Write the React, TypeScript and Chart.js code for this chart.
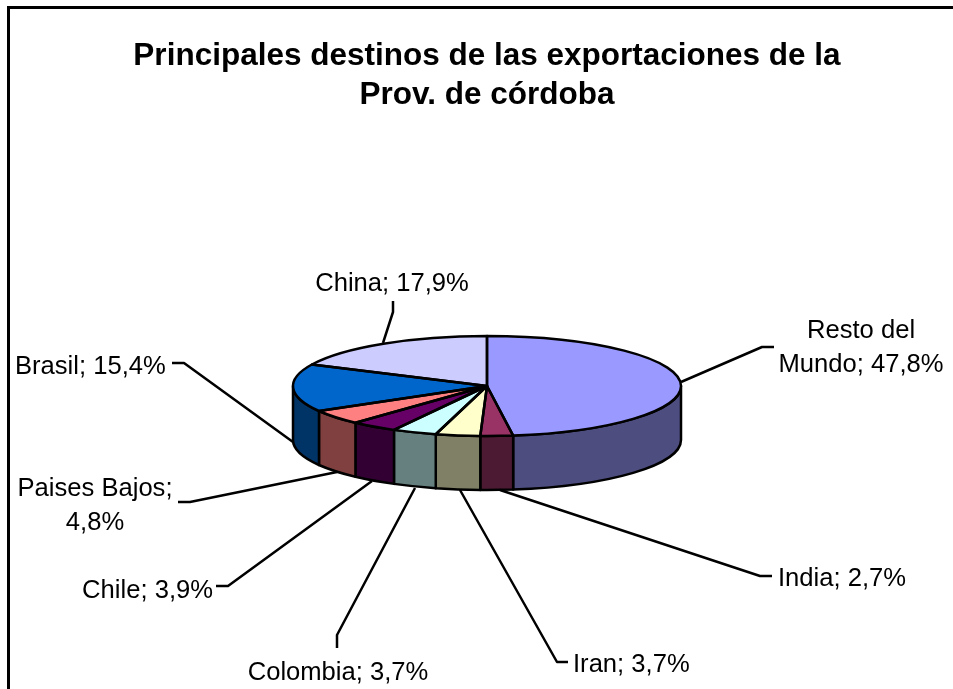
import React, { useEffect, useRef } from "react";
import { Chart, registerables } from "chart.js";

Chart.register(...registerables);

const categories = ["Resto del Mundo", "India", "Iran", "Colombia", "Chile", "Paises Bajos", "Brasil", "China"];
const shares = [47.8, 2.7, 3.7, 3.7, 3.9, 4.8, 15.4, 17.9];
const topColors = ["#9999FF", "#993366", "#FFFFCC", "#CCFFFF", "#660066", "#FF8080", "#0066CC", "#CCCCFF"];
const sideColors = ["#4D4D80", "#4D1A33", "#808066", "#668080", "#330033", "#804040", "#003366", "#666680"];
const titleLines = ["Principales destinos de las exportaciones de la", "Prov. de córdoba"];

const pct = (i: number) => `${shares[i].toFixed(1).replace(".", ",")}%`;

// Label layout, in the order of the categories.
const labelLayout = [
  { lines: ["Resto del", `Mundo; ${pct(0)}`], x: 861, y: 331, align: "center", leader: [[681, 382], [762, 347], [774, 347]] },
  { lines: [`India; ${pct(1)}`], x: 778, y: 579, align: "left", leader: [[500, 490], [760, 576], [772, 576]] },
  { lines: [`Iran; ${pct(2)}`], x: 573, y: 665, align: "left", leader: [[460, 490], [557, 662], [568, 662]] },
  { lines: [`Colombia; ${pct(3)}`], x: 338, y: 673, align: "center", leader: [[415, 488], [337, 635], [337, 648]] },
  { lines: [`Chile; ${pct(4)}`], x: 213, y: 591, align: "right", leader: [[372, 481], [228, 586], [216, 586]] },
  { lines: ["Paises Bajos;", pct(5)], x: 95, y: 489, align: "center", leader: [[337, 472], [190, 502], [178, 502]] },
  { lines: [`Brasil; ${pct(6)}`], x: 15, y: 367, align: "left", leader: [[293, 442], [184, 363], [172, 363]] },
  { lines: [`China; ${pct(7)}`], x: 392, y: 284, align: "center", leader: [[383, 343], [393, 312], [393, 301]] },
];

const PIE_RADIUS = 194;
const PIE_CENTER_Y = 386;
const TILT = 50 / 194;
const DEPTH = 54;
const LINE = 2.5;

const pie3d = {
  id: "pie3d",
  beforeDatasetsDraw(chart: any) {
    const { ctx } = chart;
    const arcs = chart.getDatasetMeta(0).data;
    const { x, outerRadius: r, y } = arcs[0].getProps(["x", "y", "outerRadius"], true);
    const rx = r;
    const ry = r * TILT;

    ctx.save();
    ctx.lineJoin = "round";
    ctx.lineWidth = LINE;
    ctx.strokeStyle = "#000";
    arcs.forEach((arc: any, i: number) => {
      const { startAngle, endAngle } = arc.getProps(["startAngle", "endAngle"], true);
      const a0 = Math.max(startAngle, 0);
      const a1 = Math.min(endAngle, Math.PI);
      if (a1 <= a0) return;
      ctx.beginPath();
      ctx.ellipse(x, PIE_CENTER_Y, rx, ry, 0, a0, a1);
      ctx.ellipse(x, PIE_CENTER_Y + DEPTH, rx, ry, 0, a1, a0, true);
      ctx.closePath();
      ctx.fillStyle = sideColors[i];
      ctx.fill();
      ctx.stroke();
    });
    ctx.restore();

    ctx.save();
    ctx.translate(x, PIE_CENTER_Y);
    ctx.scale(1, TILT);
    ctx.translate(-x, -y);
  },
  afterDatasetsDraw(chart: any) {
    const { ctx } = chart;
    ctx.restore();
    const arcs = chart.getDatasetMeta(0).data;
    ctx.save();
    ctx.lineJoin = "round";
    ctx.lineWidth = LINE;
    ctx.strokeStyle = "#000";
    arcs.forEach((arc: any) => {
      const { x, outerRadius: r, startAngle, endAngle } = arc.getProps(["x", "outerRadius", "startAngle", "endAngle"], true);
      ctx.beginPath();
      ctx.moveTo(x, PIE_CENTER_Y);
      ctx.ellipse(x, PIE_CENTER_Y, r, r * TILT, 0, startAngle, endAngle);
      ctx.closePath();
      ctx.stroke();
    });
    ctx.restore();
  },
  afterDraw(chart: any) {
    const { ctx } = chart;
    ctx.save();
    // frame: top and left rules only
    ctx.strokeStyle = "#000";
    ctx.lineWidth = 3;
    ctx.beginPath();
    ctx.moveTo(953, 7.5);
    ctx.lineTo(8.5, 7.5);
    ctx.lineTo(8.5, 689);
    ctx.stroke();

    ctx.lineWidth = 2.5;
    ctx.lineJoin = "round";
    ctx.fillStyle = "#000";
    ctx.font = '25.6px "Liberation Sans"';
    ctx.textBaseline = "middle";
    labelLayout.forEach((l) => {
      ctx.beginPath();
      l.leader.forEach(([px, py], k) => (k ? ctx.lineTo(px, py) : ctx.moveTo(px, py)));
      ctx.stroke();
      ctx.textAlign = l.align;
      l.lines.forEach((t, k) => ctx.fillText(t, l.x, l.y + k * 34));
    });
    ctx.restore();
  },
};

export default function App() {
  const ref = useRef<HTMLCanvasElement>(null);
  useEffect(() => {
    const chart = new Chart(ref.current as HTMLCanvasElement, {
      type: "pie",
      data: {
        labels: categories,
        datasets: [{ data: shares, backgroundColor: topColors, borderWidth: 0, clip: false, radius: PIE_RADIUS }],
      },
      options: {
        animation: false,
        responsive: false,
        layout: { padding: { left: 21, right: 0, top: 0, bottom: 0 } },
        plugins: {
          legend: { display: false },
          tooltip: { enabled: false },
          title: {
            display: true,
            text: titleLines,
            color: "#000",
            font: { family: '"Liberation Sans"', size: 31.5, weight: "bold", lineHeight: 1.23 },
            padding: { top: 37, bottom: 10 },
          },
        },
      },
      plugins: [pie3d],
    } as any);
    return () => chart.destroy();
  }, []);
  return (
    <div style={{ position: "fixed", left: 0, top: 0, width: 953, height: 689, background: "#fff" }}>
      <canvas ref={ref} width={953} height={689} style={{ display: "block" }} />
    </div>
  );
}
